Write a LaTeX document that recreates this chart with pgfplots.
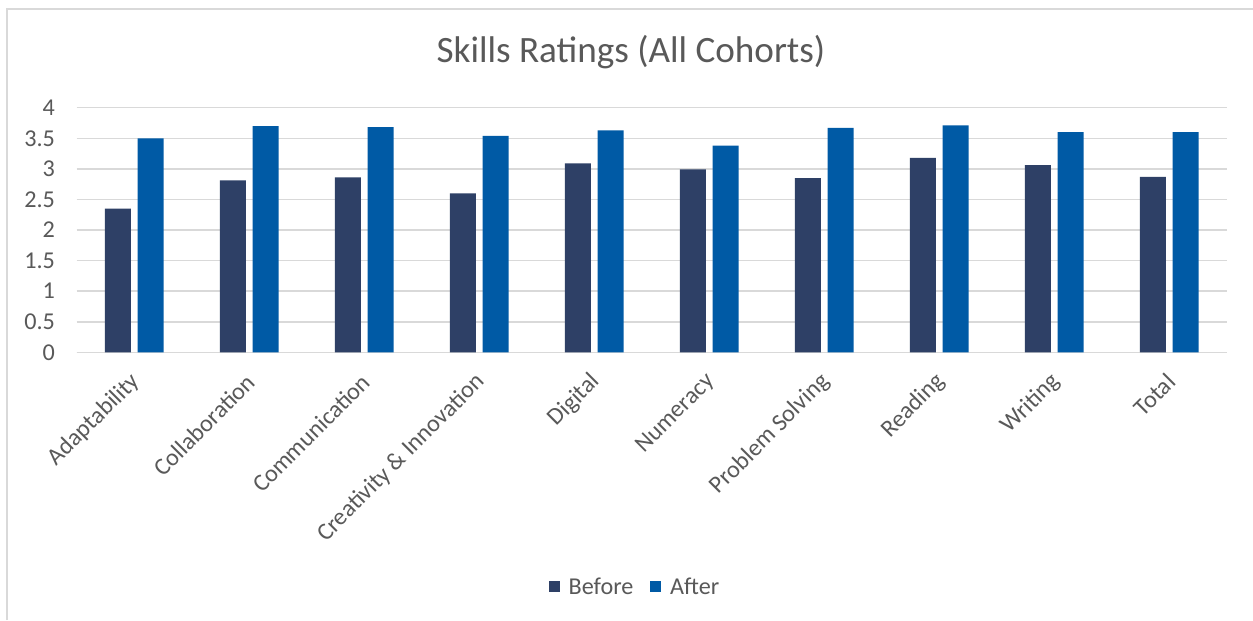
\documentclass[border=0pt]{standalone}
\usepackage{pgfplots}
\pgfplotsset{compat=1.18}
\usepackage{fontspec}
\setmainfont{Carlito}
\definecolor{before}{HTML}{2E4066}
\definecolor{after}{HTML}{005AA5}
\definecolor{txt}{HTML}{595959}
\definecolor{gridc}{HTML}{D9D9D9}
\begin{document}
\begin{tikzpicture}
\useasboundingbox (-46pt,-160.6pt) rectangle (705.8pt,211.4pt);
\fill[white] (-46pt,-160.6pt) rectangle (705.8pt,211.4pt);
\draw[gridc, line width=0.9pt] (-41.8pt,-160.6pt) -- (-41.8pt,206pt) -- (705.8pt,206pt);
\begin{axis}[
  at={(0,0)}, anchor=south west,
  scale only axis, width=690pt, height=146.8pt,
  ybar, bar width=15.6pt,
  xmin=-0.5, xmax=9.5, ymin=0, ymax=4,
  ytick={0,0.5,...,4},
  yticklabels={0,0.5,1,1.5,2,2.5,3,3.5,4},
  xtick=data,
  xticklabels={Adaptability,Collaboration,Communication,Creativity \& Innovation,Digital,Numeracy,Problem Solving,Reading,Writing,Total},
  axis x line*=bottom, axis y line*=left,
  x axis line style={draw=gridc, line width=0.9pt, -},
  y axis line style={draw=none},
  ymajorgrids, xmajorgrids=false,
  y grid style={draw=gridc, line width=0.9pt},
  major tick length=0pt,
  tick label style={font=\fontsize{14.5}{16}\selectfont, text=txt},
  /pgf/number format/assume math mode=true,
  yticklabel style={anchor=east, xshift=-9.5pt},
  xticklabel style={rotate=45, anchor=east, xshift=-6.6pt, yshift=-11.8pt},
  legend style={at={(0.486,-0.959)}, anchor=center, draw=none, fill=none,
    legend columns=2, font=\fontsize{14.5}{16}\selectfont, text=txt,
    /tikz/every odd column/.append style={column sep=3.5pt},
    /tikz/every even column/.append style={column sep=8pt}},
  legend image code/.code={\fill[#1] (0pt,-3.3pt) rectangle (6.6pt,3.3pt);},
]
\addplot[fill=before, draw=none, bar shift=-9.8pt] coordinates {
(0,2.35) (1,2.81) (2,2.86) (3,2.60) (4,3.09) (5,2.99) (6,2.85) (7,3.18) (8,3.06) (9,2.87)};
\addplot[fill=after, draw=none, bar shift=9.8pt] coordinates {
(0,3.50) (1,3.70) (2,3.68) (3,3.54) (4,3.63) (5,3.38) (6,3.67) (7,3.71) (8,3.60) (9,3.60)};
\legend{Before,After}
\end{axis}
\node[text=txt, font=\fontsize{22.3}{26}\selectfont] at (332.6pt,180.2pt) {Skills Ratings (All Cohorts)};
\end{tikzpicture}
\end{document}
